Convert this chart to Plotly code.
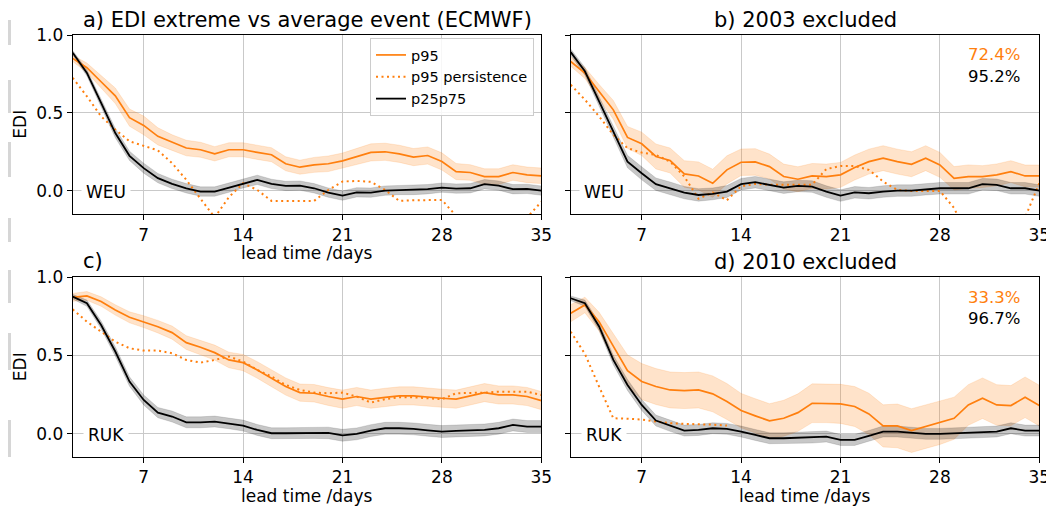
import plotly.graph_objects as go

# ---------------- data ----------------
days = list(range(2, 36))

# a) WEU, all years
a_p95 = [0.85, 0.79, 0.70, 0.61, 0.47, 0.42, 0.35, 0.31, 0.275, 0.264, 0.238, 0.264, 0.264, 0.247, 0.232, 0.174, 0.152,
         0.167, 0.174, 0.193, 0.221, 0.247, 0.251, 0.238, 0.217, 0.227, 0.189, 0.124, 0.118, 0.092, 0.092, 0.118, 0.103, 0.097]
a_p95_hw = [0.02, 0.03, 0.04, 0.05, 0.055, 0.06, 0.055, 0.05, 0.05, 0.048, 0.046, 0.045, 0.045, 0.045, 0.045, 0.045, 0.045,
            0.048, 0.05, 0.05, 0.052, 0.055, 0.055, 0.055, 0.055, 0.055, 0.055, 0.052, 0.05, 0.05, 0.05, 0.05, 0.05, 0.05]
a_pers = [0.725, 0.607, 0.478, 0.393, 0.318, 0.29, 0.26, 0.178, 0.071, -0.05, -0.17, -0.04, 0.049, 0.006, -0.064, -0.064, -0.064,
          -0.064, 0.006, 0.06, 0.064, 0.058, 0.006, -0.064, -0.06, -0.058, -0.058, -0.16, -0.3, -0.3, -0.3, -0.3, -0.17, -0.07]
a_blk = [0.886, 0.757, 0.564, 0.371, 0.225, 0.146, 0.082, 0.045, 0.017, -0.004, -0.004, 0.021, 0.049, 0.071, 0.045, 0.032, 0.034,
         0.017, -0.011, -0.030, -0.009, -0.011, 0.002, 0.006, 0.006, 0.011, 0.021, 0.015, 0.017, 0.043, 0.034, 0.011, 0.013, 0.002]
a_blk_hw = [0.015, 0.02, 0.025, 0.03, 0.03, 0.032, 0.03, 0.03, 0.03, 0.03, 0.03, 0.03, 0.03, 0.03, 0.03, 0.03, 0.03,
            0.03, 0.03, 0.03, 0.03, 0.03, 0.03, 0.03, 0.03, 0.03, 0.03, 0.03, 0.03, 0.03, 0.03, 0.03, 0.03, 0.03]

# b) WEU, 2003 excluded
b_p95 = [0.83, 0.756, 0.638, 0.52, 0.343, 0.302, 0.221, 0.195, 0.109, 0.096, 0.049, 0.135, 0.184, 0.186, 0.156, 0.092, 0.075,
         0.096, 0.092, 0.103, 0.15, 0.188, 0.21, 0.188, 0.171, 0.21, 0.167, 0.081, 0.092, 0.092, 0.103, 0.124, 0.096, 0.096]
b_p95_hw = [0.03, 0.035, 0.045, 0.06, 0.07, 0.075, 0.08, 0.08, 0.085, 0.09, 0.09, 0.09, 0.085, 0.085, 0.08, 0.08, 0.08,
            0.08, 0.08, 0.08, 0.08, 0.08, 0.08, 0.08, 0.08, 0.08, 0.08, 0.075, 0.075, 0.07, 0.07, 0.07, 0.07, 0.07]
b_pers = [0.681, 0.585, 0.478, 0.36, 0.274, 0.246, 0.231, 0.188, 0.092, -0.05, -0.01, -0.06, 0.03, 0.045, 0.04, 0.04, 0.04,
          0.04, 0.14, 0.16, 0.16, 0.135, 0.06, 0.006, 0.0, 0.0, 0.0, -0.11, -0.3, -0.3, -0.3, -0.3, -0.17, 0.05]
b_blk = [0.89, 0.767, 0.574, 0.381, 0.188, 0.113, 0.043, 0.017, -0.011, -0.026, -0.019, -0.004, 0.043, 0.056, 0.039, 0.021, 0.032,
         0.028, -0.004, -0.030, -0.009, -0.015, -0.004, 0.002, 0.002, 0.011, 0.017, 0.017, 0.017, 0.043, 0.039, 0.017, 0.017, 0.002]
b_blk_hw = [0.02, 0.025, 0.03, 0.035, 0.04, 0.042, 0.04, 0.04, 0.04, 0.04, 0.038, 0.038, 0.037, 0.037, 0.037, 0.037, 0.037,
            0.037, 0.037, 0.037, 0.037, 0.037, 0.037, 0.037, 0.037, 0.037, 0.037, 0.037, 0.037, 0.037, 0.037, 0.037, 0.037, 0.037]

# c) RUK, all years
c_p95 = [0.872, 0.881, 0.845, 0.791, 0.744, 0.716, 0.684, 0.646, 0.582, 0.552, 0.518, 0.471, 0.454, 0.407, 0.354, 0.301, 0.262,
         0.258, 0.237, 0.220, 0.237, 0.220, 0.232, 0.241, 0.241, 0.232, 0.226, 0.220, 0.241, 0.262, 0.247, 0.247, 0.237, 0.211]
c_p95_hw = [0.025, 0.028, 0.03, 0.033, 0.035, 0.038, 0.04, 0.042, 0.044, 0.046, 0.048, 0.05, 0.052, 0.053, 0.054, 0.055, 0.055,
            0.056, 0.057, 0.058, 0.058, 0.058, 0.058, 0.058, 0.058, 0.058, 0.058, 0.058, 0.058, 0.058, 0.058, 0.058, 0.058, 0.058]
c_pers = [0.795, 0.716, 0.652, 0.588, 0.546, 0.531, 0.531, 0.514, 0.471, 0.454, 0.471, 0.493, 0.461, 0.407, 0.365, 0.311, 0.279,
          0.262, 0.258, 0.262, 0.237, 0.198, 0.220, 0.232, 0.232, 0.226, 0.220, 0.258, 0.258, 0.262, 0.268, 0.268, 0.268, 0.247]
c_blk = [0.876, 0.834, 0.695, 0.525, 0.333, 0.215, 0.134, 0.109, 0.072, 0.072, 0.077, 0.066, 0.051, 0.023, 0.002, 0.002, 0.002,
         0.004, 0.004, -0.011, -0.002, 0.019, 0.034, 0.034, 0.030, 0.021, 0.013, 0.017, 0.021, 0.023, 0.034, 0.055, 0.045, 0.045]
c_blk_hw = [0.015, 0.02, 0.025, 0.03, 0.03, 0.032, 0.033, 0.035, 0.035, 0.035, 0.035, 0.035, 0.035, 0.035, 0.035, 0.035, 0.035,
            0.035, 0.037, 0.038, 0.038, 0.038, 0.038, 0.038, 0.038, 0.038, 0.038, 0.038, 0.038, 0.038, 0.038, 0.038, 0.038, 0.038]

# d) RUK, 2010 excluded
d_p95 = [0.77, 0.823, 0.716, 0.557, 0.403, 0.333, 0.301, 0.279, 0.275, 0.279, 0.254, 0.205, 0.147, 0.113, 0.081, 0.098, 0.134,
         0.194, 0.194, 0.190, 0.173, 0.126, 0.049, 0.049, 0.019, 0.045, 0.070, 0.098, 0.183, 0.226, 0.183, 0.179, 0.232, 0.179]
d_p95_hw = [0.055, 0.05, 0.06, 0.08, 0.1, 0.115, 0.115, 0.115, 0.115, 0.115, 0.115, 0.115, 0.11, 0.11, 0.11, 0.115, 0.12,
            0.124, 0.124, 0.125, 0.128, 0.132, 0.135, 0.14, 0.14, 0.14, 0.14, 0.135, 0.13, 0.13, 0.13, 0.128, 0.13, 0.13]
d_pers = [0.652, 0.51, 0.30, 0.098, 0.095, 0.09, 0.077, 0.066, 0.062, 0.06, 0.057, 0.051] + [None] * 22
d_blk = [0.866, 0.834, 0.685, 0.471, 0.311, 0.183, 0.083, 0.049, 0.019, 0.023, 0.034, 0.030, 0.013, -0.009, -0.030, -0.030, -0.026,
         -0.026, -0.019, -0.041, -0.041, -0.015, 0.013, 0.013, 0.006, -0.002, -0.002, 0.002, 0.002, 0.009, 0.013, 0.034, 0.019, 0.019]
d_blk_hw = [0.015, 0.02, 0.025, 0.03, 0.035, 0.035, 0.035, 0.035, 0.035, 0.035, 0.035, 0.035, 0.035, 0.035, 0.035, 0.035, 0.035,
            0.035, 0.035, 0.035, 0.035, 0.035, 0.035, 0.035, 0.035, 0.035, 0.035, 0.035, 0.035, 0.035, 0.035, 0.035, 0.035, 0.035]

titles = ["a) EDI extreme vs average event (ECMWF)", "b) 2003 excluded", "c)", "d) 2010 excluded"]
regions = ["WEU", "WEU", "RUK", "RUK"]
pct_p95 = [None, "72.4%", None, "33.3%"]
pct_avg = [None, "95.2%", None, "96.7%"]
show_xlabel = [True, False, True, True]
x_ticks = [7, 14, 21, 28, 35]
y_ticks = [0.0, 0.5, 1.0]
y_ticktext = ["0.0", "0.5", "1.0"]

panels = [
    (a_p95, a_p95_hw, a_pers, a_blk, a_blk_hw),
    (b_p95, b_p95_hw, b_pers, b_blk, b_blk_hw),
    (c_p95, c_p95_hw, c_pers, c_blk, c_blk_hw),
    (d_p95, d_p95_hw, d_pers, d_blk, d_blk_hw),
]

# ---------------- layout geometry (screen pixels) ----------------
# the page body has an 8px default margin, so the figure is drawn 8px smaller
# and every screen position is shifted by that offset
OFF = 8
SW, SH = 1054, 508
W, H = SW - OFF, SH - OFF
FONT = "DejaVu Sans"
ORANGE = "#ff7f0e"
col_px = [(72.7, 541.3), (570.7, 1039.3)]
row_px = [(35.0, 214.3), (277.3, 457.0)]


def px_x(x):
    return (x - OFF) / W


def px_y(y):
    return 1 - (y - OFF) / H


fig = go.Figure()

for i, (p95, p95_hw, pers, blk, blk_hw) in enumerate(panels):
    xa = "x" if i == 0 else f"x{i+1}"
    ya = "y" if i == 0 else f"y{i+1}"
    show = i == 0
    up = [v + h for v, h in zip(p95, p95_hw)]
    lo = [v - h for v, h in zip(p95, p95_hw)]
    fig.add_trace(go.Scatter(x=days + days[::-1], y=up + lo[::-1], fill="toself",
                             fillcolor="rgba(255,127,14,0.22)", line=dict(width=0.6, color="rgba(255,127,14,0.25)"),
                             hoverinfo="skip", showlegend=False, xaxis=xa, yaxis=ya))
    upb = [v + h for v, h in zip(blk, blk_hw)]
    lob = [v - h for v, h in zip(blk, blk_hw)]
    fig.add_trace(go.Scatter(x=days + days[::-1], y=upb + lob[::-1], fill="toself",
                             fillcolor="rgba(0,0,0,0.22)", line=dict(width=0.6, color="rgba(0,0,0,0.2)"),
                             hoverinfo="skip", showlegend=False, xaxis=xa, yaxis=ya))
    fig.add_trace(go.Scatter(x=days, y=p95, mode="lines", name="p95",
                             line=dict(color=ORANGE, width=1.7), showlegend=show, xaxis=xa, yaxis=ya))
    fig.add_trace(go.Scatter(x=days, y=pers, mode="lines", name="p95 persistence",
                             line=dict(color=ORANGE, width=2, dash="2px,3.5px"), connectgaps=False,
                             showlegend=show, xaxis=xa, yaxis=ya))
    fig.add_trace(go.Scatter(x=days, y=blk, mode="lines", name="p25p75",
                             line=dict(color="black", width=1.8), showlegend=show, xaxis=xa, yaxis=ya))

layout = dict(
    width=W, height=H, margin=dict(l=0, r=0, t=0, b=0, autoexpand=False),
    paper_bgcolor="white", plot_bgcolor="white",
    font=dict(family=FONT, size=17, color="black"),
    showlegend=True,
    legend=dict(x=px_x(534), y=px_y(38), xanchor="right", yanchor="top",
                bgcolor="rgba(255,255,255,0.85)", bordercolor="#cccccc", borderwidth=1,
                font=dict(family=FONT, size=14.5, color="black"),
                traceorder="normal", itemwidth=30),
)

annotations = []
shapes = []
for i in range(4):
    r, c = divmod(i, 2)
    xs = "" if i == 0 else str(i + 1)
    x0, x1 = col_px[c]
    y0, y1 = row_px[r]
    layout[f"xaxis{xs}"] = dict(
        domain=[px_x(x0), px_x(x1)], range=[2, 35], tickvals=x_ticks, anchor=f"y{xs}", automargin=False,
        showgrid=True, gridcolor="#c9c9c9", gridwidth=1, zeroline=False,
        ticks="outside", ticklen=5, tickwidth=1, tickcolor="black",
        showline=True, linecolor="black", linewidth=1, mirror=True,
        tickfont=dict(family=FONT, size=17, color="black"))
    layout[f"yaxis{xs}"] = dict(
        domain=[px_y(y1), px_y(y0)], range=[-0.15, 1.0], tickvals=y_ticks, ticktext=y_ticktext,
        anchor=f"x{xs}", automargin=False, showgrid=True, gridcolor="#c9c9c9", gridwidth=1, zeroline=False,
        ticks="outside", ticklen=5, tickwidth=1, tickcolor="black",
        showline=True, linecolor="black", linewidth=1, mirror=True,
        showticklabels=(c == 0), tickfont=dict(family=FONT, size=17, color="black"))

    # titles
    if titles[i] == "c)":
        annotations.append(dict(text=titles[i], xref="paper", yref="paper", x=px_x(81), y=px_y(y0 - 16),
                                xanchor="left", yanchor="middle", showarrow=False,
                                font=dict(family=FONT, size=21, color="black")))
    else:
        annotations.append(dict(text=titles[i], xref="paper", yref="paper", x=px_x((x0 + x1) / 2),
                                y=px_y(y0 - 15), xanchor="center", yanchor="middle", showarrow=False,
                                font=dict(family=FONT, size=21, color="black")))
    # x-axis label
    if show_xlabel[i]:
        annotations.append(dict(text="lead time /days", xref="paper", yref="paper", x=px_x((x0 + x1) / 2),
                                y=px_y(y1 + 39), xanchor="center", yanchor="middle", showarrow=False,
                                font=dict(family=FONT, size=17, color="black")))
    # y-axis label
    if c == 0:
        annotations.append(dict(text="EDI", xref="paper", yref="paper", x=px_x(20), y=px_y((y0 + y1) / 2),
                                xanchor="center", yanchor="middle", textangle=-90, showarrow=False,
                                font=dict(family=FONT, size=17, color="black")))
    # region label
    annotations.append(dict(text=regions[i], xref=f"x{xs}", yref=f"y{xs}", x=4.35, y=-0.01,
                            xanchor="center", yanchor="middle", showarrow=False, bgcolor="white", borderpad=4,
                            font=dict(family=FONT, size=17, color="black")))
    # percentages
    if pct_p95[i]:
        annotations.append(dict(text=pct_p95[i], xref="paper", yref="paper", x=px_x(x1 - 17), y=px_y(y0 + 20),
                                xanchor="right", yanchor="middle", showarrow=False,
                                font=dict(family=FONT, size=16.5, color=ORANGE)))
        annotations.append(dict(text=pct_avg[i], xref="paper", yref="paper", x=px_x(x1 - 17), y=px_y(y0 + 41),
                                xanchor="right", yanchor="middle", showarrow=False,
                                font=dict(family=FONT, size=16.5, color="black")))

# faint grey strips at the very left edge (cropping remnants in the source picture)
for (sy0, sy1) in [(20, 45), (80, 113), (142, 177), (218, 242), (270, 303), (333, 370), (420, 457)]:
    shapes.append(dict(type="rect", xref="paper", yref="paper", x0=0, x1=px_x(11), y0=px_y(sy1), y1=px_y(sy0),
                       fillcolor="#d6d6d6", line=dict(width=0), layer="below"))

layout["annotations"] = annotations
layout["shapes"] = shapes
fig.update_layout(**layout)

fig.write_html("out.html")
